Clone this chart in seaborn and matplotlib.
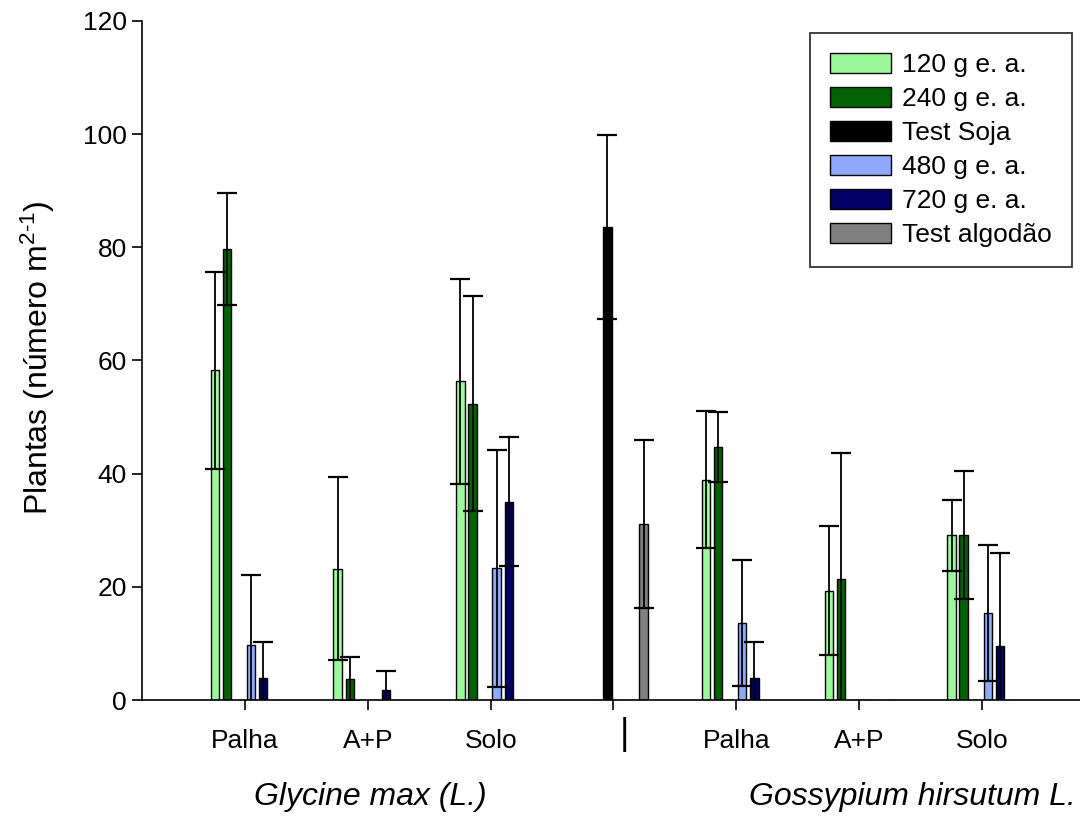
import numpy as np
import pandas as pd
import matplotlib
matplotlib.use("Agg")
import matplotlib.pyplot as plt
import seaborn as sns
from matplotlib.transforms import ScaledTranslation, blended_transform_factory

# ---- data ----
grupos = ["G-Palha", "G-A+P", "G-Solo", "Mid", "H-Palha", "H-A+P", "H-Solo"]
rotulos_x = ["Palha", "A+P", "Solo", "", "Palha", "A+P", "Solo"]
tratamentos = ["120 g e. a.", "240 g e. a.", "Test Soja", "480 g e. a.", "720 g e. a.", "Test algodão"]
cores = ["#98FB98", "#006400", "#000000", "#8CA8FF", "#000066", "#808080"]

v120 = [58.3, 23.2, 56.3, 0, 38.9, 19.3, 29.1]
v240 = [79.7, 3.7, 52.4, 0, 44.7, 21.4, 29.1]
vsoja = [0, 0, 0, 83.6, 0, 0, 0]
v480 = [9.7, 0, 23.3, 0, 13.6, 0, 15.4]
v720 = [3.9, 1.8, 35.0, 0, 3.9, 0, 9.6]
valg = [0, 0, 0, 31.1, 0, 0, 0]

sd120 = [17.4, 16.2, 18.1, 0, 12.1, 11.4, 6.3]
sd240 = [9.95, 3.9, 19.0, 0, 6.2, 22.3, 11.3]
sdsoja = [0, 0, 0, 16.2, 0, 0, 0]
sd480 = [12.45, 0, 20.95, 0, 11.2, 0, 12.0]
sd720 = [6.4, 3.3, 11.4, 0, 6.4, 0, 16.4]
sdalg = [0, 0, 0, 14.9, 0, 0, 0]

valores = [v120, v240, vsoja, v480, v720, valg]
desvios = [sd120, sd240, sdsoja, sd480, sd720, sdalg]

rows = []
for t, vals, sds in zip(tratamentos, valores, desvios):
    for g, v, s in zip(grupos, vals, sds):
        rows.append({"grupo": g, "trat": t, "valor": v, "sd": s})
df = pd.DataFrame(rows)

# ---- style ----
sns.set_style("ticks")
plt.rcParams["font.family"] = ["Liberation Sans", "DejaVu Sans"]
plt.rcParams["mathtext.fontset"] = "custom"
plt.rcParams["mathtext.rm"] = "Liberation Sans"
plt.rcParams["mathtext.it"] = "Liberation Sans:italic"
plt.rcParams["axes.linewidth"] = 1.2
plt.rcParams["text.color"] = "black"
plt.rcParams["axes.labelcolor"] = "black"
plt.rcParams["xtick.color"] = "black"
plt.rcParams["ytick.color"] = "black"
plt.rcParams["axes.edgecolor"] = "black"

fig = plt.figure(figsize=(10.8, 8.16), dpi=100)
ax = fig.add_axes([142 / 1080, 1 - 700 / 816, 1 - 142 / 1080, 679 / 816])

sns.barplot(data=df, x="grupo", y="valor", hue="trat", order=grupos,
            hue_order=tratamentos, palette=cores, width=0.59, gap=0.3,
            errorbar=None, edgecolor="black", linewidth=1.0, saturation=1,
            ax=ax)

# error bars from the bar positions
sd_lookup = {t: s for t, s in zip(tratamentos, desvios)}
for cont, t in zip(ax.containers, tratamentos):
    for bar in cont:
        h = bar.get_height()
        xc = bar.get_x() + bar.get_width() / 2
        idx = int(round(xc))
        s = sd_lookup[t][idx]
        if h > 0 and s > 0:
            ax.errorbar(xc, h, yerr=s, fmt="none", ecolor="black",
                        elinewidth=1.3, capsize=7, capthick=1.6, zorder=5)

ax.set_ylim(0, 120)
ax.set_xlim(-0.84, 6.80)
ax.set_yticks(np.arange(0, 121, 20))
ax.set_xticks(range(len(grupos)))
ax.set_xticklabels(rotulos_x)
ax.tick_params(axis="x", length=7, width=1.2, pad=14, labelsize=19, colors="black")
ax.tick_params(axis="y", length=7, width=1.2, pad=4, labelsize=19, colors="black")
ax.set_xlabel("")
ax.set_ylabel("")
sns.despine(ax=ax, top=True, right=True)

# separator "|"
trans = blended_transform_factory(ax.transData, ax.transAxes) + ScaledTranslation(11 / 100, 0, fig.dpi_scale_trans)
ax.text(3, -0.0515, "|", transform=trans, ha="center", va="center", fontsize=26, color="black")

# axis titles
fig.text(38 / 1080, 1 - 358 / 816, "Plantas (número m$^{2\\text{-}1}$)",
         rotation=90, ha="center", va="center", fontsize=23, color="black")
fig.text(370 / 1080, 1 - 797 / 816, "Glycine max (L.)", style="italic",
         ha="center", va="center", fontsize=23, color="black")
fig.text(912 / 1080, 1 - 797 / 816, "Gossypium hirsutum L.", style="italic",
         ha="center", va="center", fontsize=23, color="black")

# legend
leg = ax.legend(loc="upper right", bbox_to_anchor=(1072 / 1080, 1 - 33 / 816),
                bbox_transform=fig.transFigure, borderaxespad=0, fontsize=19,
                frameon=True, fancybox=False, edgecolor="black",
                handlelength=2.3, handleheight=0.8, labelspacing=0.37,
                handletextpad=0.45, borderpad=0.75, title=None)
leg.get_frame().set_linewidth(1.3)
for txt in leg.get_texts():
    txt.set_color("black")

fig.savefig("out.png", dpi=100)
